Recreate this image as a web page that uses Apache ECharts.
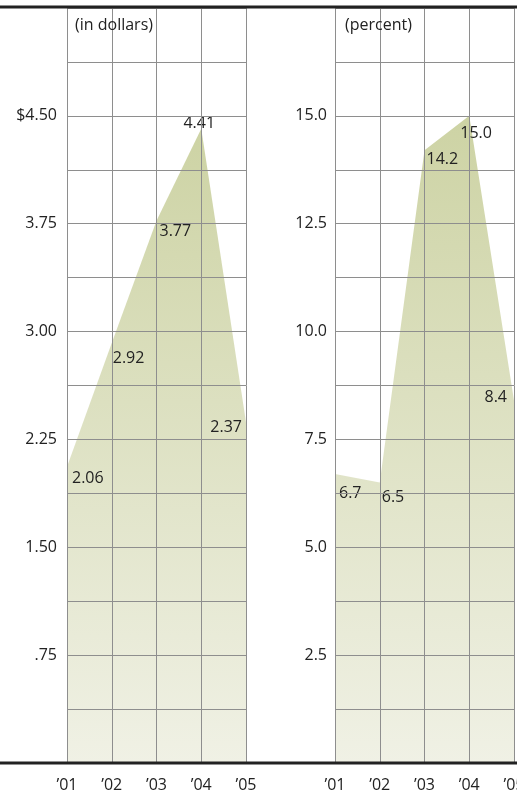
<!DOCTYPE html>
<html>
<head>
<meta charset="utf-8">
<script src="https://cdn.jsdelivr.net/npm/echarts@6/dist/echarts.min.js"></script>
<style>
  html, body { margin: 0; padding: 0; background: #fff; }
  #chart { width: 517px; height: 793px; }
</style>
</head>
<body>
<div id="chart"></div>
<script>
// Years on the horizontal axis
const years = ['\u201901', '\u201902', '\u201903', '\u201904', '\u201905'];
// Earnings per share, in dollars
const perShare = [2.06, 2.92, 3.77, 4.41, 2.37];
// Return, in percent
const percent = [6.7, 6.5, 14.2, 15.0, 8.4];
// Tick labels at every second gridline (0 .. max)
const dollarTicks = ['', '.75', '1.50', '2.25', '3.00', '3.75', '$4.50', ''];
const percentTicks = ['', '2.5', '5.0', '7.5', '10.0', '12.5', '15.0', ''];

// Value label placement: [dx, dy, align]
const dollarLabelPlace = [[5, 12, 'left'], [1, 15, 'left'], [3, 11, 'left'], [-2, -5, 'center'], [-4, 5, 'right']];
const percentLabelPlace = [[4, 19, 'left'], [2, 15, 'left'], [2, 9, 'left'], [-9, 18, 'left'], [-7, -3, 'right']];

const FONT = '"Open Sans", sans-serif';
const TEXT = '#222';
const GRIDLINE = '#8e8e8e';

function tickFormatter(labels, step) {
  return function (v) {
    const i = Math.round(v / step);
    return i % 2 ? '' : (labels[i / 2] || '');
  };
}

function buildData(values, place) {
  return values.map(function (v, i) {
    const p = place[i];
    return {
      value: v,
      label: { offset: [p[0], p[1]], align: p[2] }
    };
  });
}

function areaSeries(idx, values, place, digits) {
  return {
    type: 'line',
    xAxisIndex: idx,
    yAxisIndex: idx,
    data: buildData(values, place),
    showSymbol: true,
    symbol: 'circle',
    symbolSize: 2,
    itemStyle: { color: 'rgba(0,0,0,0)' },
    lineStyle: { width: 0, opacity: 0 },
    areaStyle: {
      opacity: 1,
      color: new echarts.graphic.LinearGradient(0, 0, 0, 1, [
        { offset: 0, color: '#cdd3a4' },
        { offset: 1, color: '#f0f1e5' }
      ])
    },
    label: {
      show: true,
      position: 'inside',
      verticalAlign: 'middle',
      fontFamily: FONT,
      fontSize: 16,
      color: TEXT,
      formatter: function (p) { return p.value.toFixed(digits); }
    },
    emphasis: { disabled: true },
    silent: true,
    z: 2
  };
}

function xAxis(idx) {
  return {
    type: 'category',
    gridIndex: idx,
    data: years,
    boundaryGap: false,
    z: 5,
    axisLine: { show: false },
    axisTick: { show: false },
    axisLabel: { fontFamily: FONT, fontSize: 16, color: TEXT, margin: 14, interval: 0 },
    splitLine: { show: true, lineStyle: { color: GRIDLINE, width: 1 } }
  };
}

function yAxis(idx, max, step, labels, margin) {
  return {
    type: 'value',
    gridIndex: idx,
    min: 0,
    max: max,
    interval: step,
    z: 5,
    axisLine: { show: false },
    axisTick: { show: false },
    axisLabel: {
      fontFamily: FONT, fontSize: 16, color: TEXT, margin: margin,
      showMinLabel: true, showMaxLabel: true,
      formatter: tickFormatter(labels, step)
    },
    splitLine: { show: true, lineStyle: { color: GRIDLINE, width: 1 } }
  };
}

const chart = echarts.init(document.getElementById('chart'), null, { renderer: 'canvas' });

chart.setOption({
  animation: false,
  backgroundColor: '#fff',
  title: [
    { text: '(in dollars)', left: 75, top: 17, padding: 0,
      textStyle: { fontFamily: FONT, fontSize: 16, fontWeight: 'normal', color: TEXT } },
    { text: '(percent)', left: 345, top: 17, padding: 0,
      textStyle: { fontFamily: FONT, fontSize: 16, fontWeight: 'normal', color: TEXT } }
  ],
  grid: [
    { left: 67, width: 179, top: 8, bottom: 30, containLabel: false, outerBoundsMode: 'none' },
    { left: 335, width: 179, top: 8, bottom: 30, containLabel: false, outerBoundsMode: 'none' }
  ],
  xAxis: [xAxis(0), xAxis(1)],
  yAxis: [
    yAxis(0, 5.25, 0.375, dollarTicks, 10),
    yAxis(1, 17.5, 1.25, percentTicks, 8)
  ],
  series: [
    areaSeries(0, perShare, dollarLabelPlace, 2),
    areaSeries(1, percent, percentLabelPlace, 1)
  ],
  graphic: [
    { type: 'line', z: 100, shape: { x1: 0, y1: 7, x2: 517, y2: 7 },
      style: { stroke: '#222', lineWidth: 3 } },
    { type: 'line', z: 100, shape: { x1: 0, y1: 763, x2: 517, y2: 763 },
      style: { stroke: '#222', lineWidth: 3 } }
  ]
});
</script>
</body>
</html>
